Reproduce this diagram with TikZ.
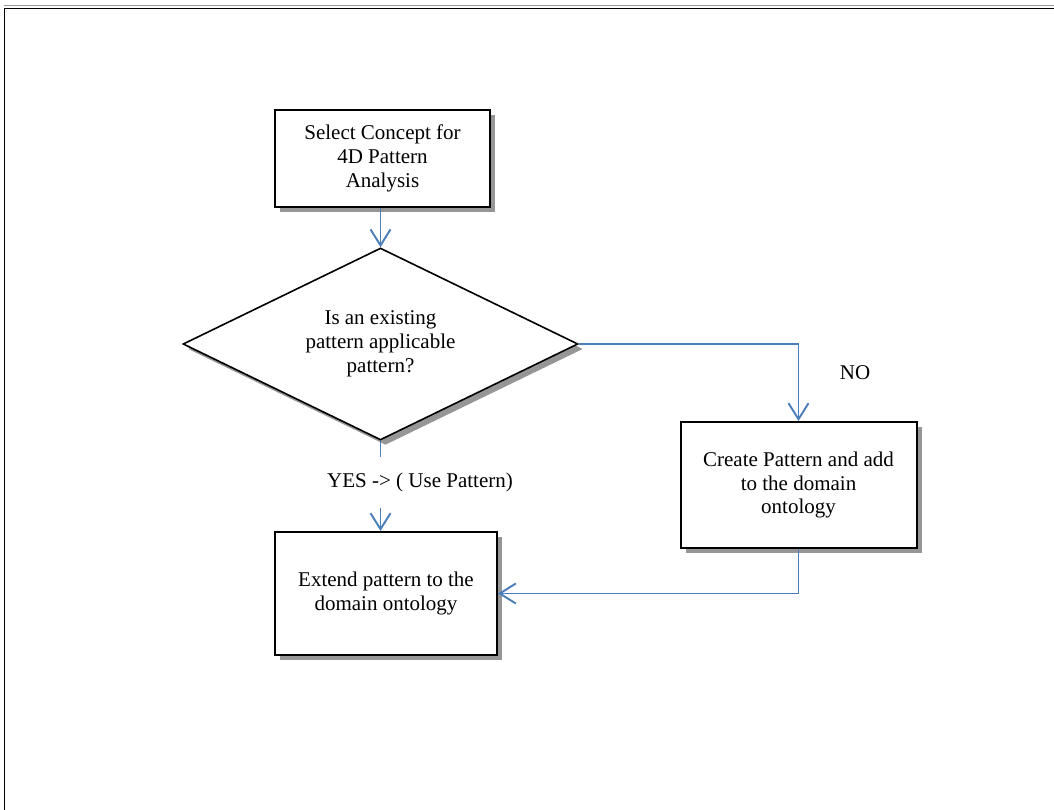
\documentclass[tikz,border=0pt]{standalone}
\usepackage{fontspec}
\setmainfont{Liberation Serif}
\usetikzlibrary{shapes.geometric,arrows.meta,shadows}
\definecolor{linkblue}{RGB}{74,126,187}
\definecolor{shadowgray}{RGB}{150,150,150}
\begin{document}
\begin{tikzpicture}[x=1pt,y=-1pt,
  every node/.style={font=\fontsize{21}{23.8}\selectfont, align=center},
  shade box/.style={draw=black, line width=2pt, fill=white, inner sep=0pt,
    drop shadow={shadow xshift=5pt, shadow yshift=-5pt, fill=shadowgray, opacity=1}},
  stepbox/.style={shade box, rectangle},
  decision/.style={shade box, diamond, line width=1.6pt},
  link/.style={draw=linkblue, line width=1.9pt},
  arr/.style={link, -{Straight Barb[length=16pt,width=20pt,line width=1.9pt]}},
  lbl/.style={inner sep=0pt}]
  \useasboundingbox (0,0) rectangle (1054,810);
  % page frame
  \draw[shadowgray, line width=1pt] (4,6) -- (1054,6);
  \draw[black, line width=1.6pt] (1054,8.5) -- (4.5,8.5) -- (4.5,810);

  % steps and decision
  \node[stepbox, minimum width=215pt, minimum height=97pt] (sel) at (382.5,158.5)
    {Select Concept for\\4D Pattern\\Analysis};
  \node[decision, minimum width=395pt, minimum height=192pt,
    label={[lbl]center:{Is an existing\\pattern applicable\\pattern?}}] (dia) at (380.5,344) {};
  \node[stepbox, minimum width=236pt, minimum height=126pt] (cre) at (798.5,485)
    {Create Pattern and add\\to the domain\\ontology};
  \node[stepbox, minimum width=222pt, minimum height=123pt] (ext) at (386,593.5)
    {Extend pattern to the\\domain ontology};

  % labels
  \node[lbl] (no) at (855,373) {NO};
  \node[lbl] (yes) at (420,482) {YES -> ( Use Pattern)};
  \coordinate (ya) at (380.5,457);
  \coordinate (yb) at (380.5,508);

  % connectors
  \draw[arr] (sel.south -| dia.north) -- (dia.north);
  \draw[arr] (dia.east) -| (cre.north);
  \draw[arr] (cre.south) |- (ext.east);
  \draw[link] (dia.south) -- (ya);
  \draw[arr] (yb) -- (yb |- ext.north);
\end{tikzpicture}
\end{document}
